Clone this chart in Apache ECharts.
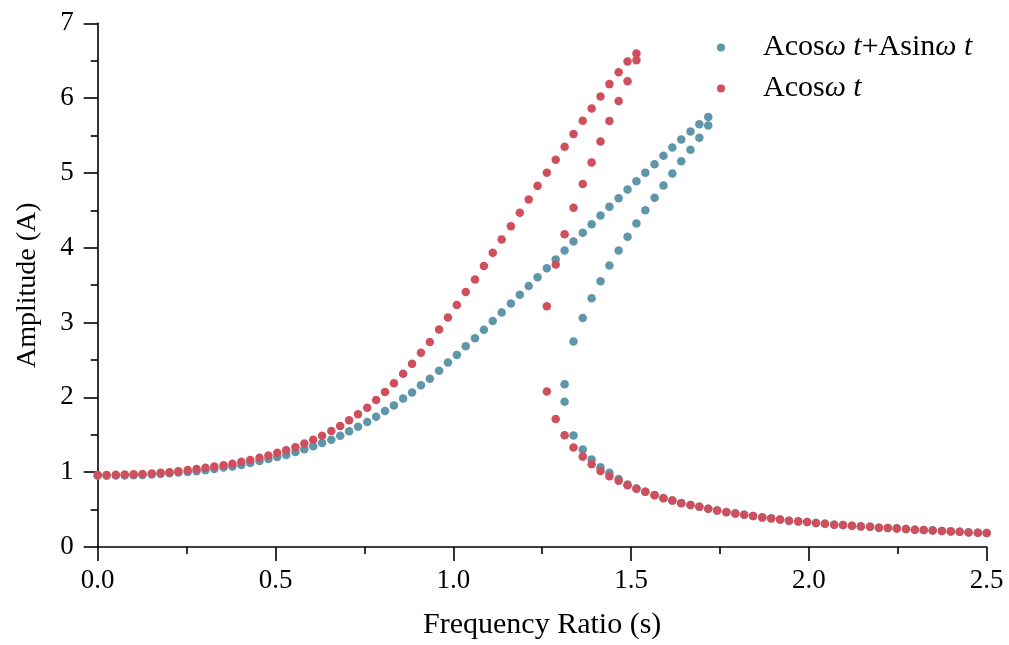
<!DOCTYPE html>
<html>
<head>
<meta charset="utf-8">
<script src="https://cdn.jsdelivr.net/npm/echarts@6/dist/echarts.min.js"></script>
<style>html,body{margin:0;padding:0;background:#fff}#c{width:1009px;height:645px}</style>
</head>
<body>
<div id="c"></div>
<script>
// Frequency grid (100 samples from 0 to 2.5)
var freq = [0.000,0.025,0.051,0.076,0.101,0.126,0.152,0.177,0.202,0.227,
0.253,0.278,0.303,0.328,0.354,0.379,0.404,0.429,0.455,0.480,
0.505,0.530,0.556,0.581,0.606,0.631,0.657,0.682,0.707,0.732,
0.758,0.783,0.808,0.833,0.859,0.884,0.909,0.934,0.960,0.985,
1.010,1.035,1.061,1.086,1.111,1.136,1.162,1.187,1.212,1.237,
1.263,1.288,1.313,1.338,1.364,1.389,1.414,1.439,1.465,1.490,
1.515,1.540,1.566,1.591,1.616,1.641,1.667,1.692,1.717,1.742,
1.768,1.793,1.818,1.843,1.869,1.894,1.919,1.944,1.970,1.995,
2.020,2.045,2.071,2.096,2.121,2.146,2.172,2.197,2.222,2.247,
2.273,2.298,2.323,2.348,2.374,2.399,2.424,2.449,2.475,2.500];

// Series names
var nameBoth = 'Acosωt+Asinωt';
var nameCos = 'Acosωt';

// Acos(wt)+Asin(wt): upper branch starts at freq index 0
var blueUpperStart = 0;
var blueUpper = [0.951,0.951,0.955,0.955,0.960,0.964,0.968,0.977,0.986,0.995,
1.004,1.013,1.026,1.044,1.062,1.075,1.097,1.124,1.151,1.177,
1.204,1.231,1.271,1.306,1.346,1.391,1.435,1.488,1.546,1.608,
1.671,1.742,1.817,1.893,1.985,2.066,2.162,2.250,2.355,2.466,
2.568,2.684,2.791,2.904,3.020,3.135,3.255,3.373,3.488,3.604,
3.727,3.844,3.962,4.084,4.200,4.315,4.431,4.547,4.661,4.777,
4.888,5.004,5.115,5.231,5.341,5.448,5.555,5.650,5.749];
// middle branch starts at freq index 52
var blueMiddleStart = 52;
var blueMiddle = [2.177,2.747,3.062,3.324,3.551,3.764,3.964,4.147,4.324,4.501,
4.667,4.831,4.991,5.155,5.311,5.471,5.633];
// lower branch starts at freq index 52
var blueLowerStart = 52;
var blueLower = [1.942,1.490,1.302,1.170,1.067,0.991,0.909,0.836,0.782,0.738,
0.694,0.654,0.623,0.587,0.561,0.538,0.512,0.489,0.467,0.449,
0.432,0.414,0.396,0.383,0.369,0.352,0.343,0.334,0.321,0.312,
0.298,0.294,0.285,0.276,0.272,0.258,0.254,0.249,0.241,0.232,
0.228,0.223,0.214,0.209,0.205,0.196,0.192,0.188];

// Acos(wt): upper branch starts at freq index 0
var redUpperStart = 0;
var redUpper = [0.964,0.964,0.966,0.968,0.972,0.977,0.983,0.991,1.000,1.013,
1.028,1.044,1.060,1.076,1.093,1.113,1.138,1.164,1.193,1.224,
1.259,1.294,1.334,1.384,1.435,1.488,1.551,1.617,1.693,1.773,
1.862,1.965,2.073,2.190,2.315,2.448,2.595,2.741,2.907,3.067,
3.235,3.408,3.577,3.755,3.933,4.111,4.288,4.467,4.644,4.827,
5.004,5.177,5.351,5.520,5.697,5.861,6.021,6.187,6.347,6.488,
6.595];
var redMiddleStart = 50;
var redMiddle = [3.217,3.777,4.181,4.533,4.853,5.141,5.421,5.693,5.960,6.227,6.507];
var redLowerStart = 50;
var redLower = [2.080,1.711,1.495,1.330,1.208,1.107,1.017,0.946,0.884,0.826,
0.777,0.737,0.693,0.653,0.622,0.586,0.560,0.537,0.511,0.488,
0.466,0.448,0.431,0.413,0.395,0.382,0.368,0.351,0.342,0.333,
0.320,0.311,0.297,0.293,0.284,0.275,0.271,0.257,0.253,0.248,
0.240,0.231,0.227,0.222,0.213,0.208,0.204,0.195,0.191,0.187];

// Axis ticks
var xTicks = [0.0,0.5,1.0,1.5,2.0,2.5];
var yTicks = [0,1,2,3,4,5,6,7];

function branch(start, vals){
  var out = [];
  for (var k = 0; k < vals.length; k++) out.push([freq[start + k], vals[k]]);
  return out;
}

var blueData = branch(blueUpperStart, blueUpper).concat(branch(blueMiddleStart, blueMiddle), branch(blueLowerStart, blueLower));
var redData = branch(redUpperStart, redUpper).concat(branch(redMiddleStart, redMiddle), branch(redLowerStart, redLower));

var FONT = '"Liberation Serif","Times New Roman",serif';
var BLUE = '#6096a9';
var RED = '#cf4f5d';

var chart = echarts.init(document.getElementById('c'), null, {renderer:'canvas'});
var axisCommon = {
  axisLine:{show:true, onZero:false, lineStyle:{color:'#000', width:1.6}},
  axisTick:{show:true, inside:false, length:14, lineStyle:{color:'#000', width:1.6}},
  minorTick:{show:true, splitNumber:2, length:7, lineStyle:{color:'#000', width:1.6}},
  splitLine:{show:false},
  minorSplitLine:{show:false}
};
chart.setOption({
  animation:false,
  backgroundColor:'#fff',
  grid:{left:97.7, right:22.3, top:23.3, bottom:96.7, containLabel:false},
  legend:{
    show:true,
    data:[nameBoth, nameCos],
    orient:'vertical',
    left:712, top:27,
    icon:'circle',
    itemWidth:8, itemHeight:8,
    itemGap:10,
    textStyle:{fontFamily:FONT, fontSize:30, color:'#000', lineHeight:31, padding:[0,0,0,33],
      rich:{i:{fontFamily:FONT, fontSize:30, fontStyle:'italic', color:'#000', lineHeight:31}}},
    formatter:function(n){
      if (n === nameBoth) return 'Acos{i|ω t}+Asin{i|ω t}';
      return 'Acos{i|ω t}';
    }
  },
  xAxis:Object.assign({
    type:'value', min:xTicks[0], max:xTicks[xTicks.length-1], interval:0.5,
    name:'Frequency Ratio (s)', nameLocation:'middle', nameGap:63,
    nameTextStyle:{fontFamily:FONT, fontSize:30, color:'#000'},
    axisLabel:{fontFamily:FONT, fontSize:27, color:'#000', margin:20,
      formatter:function(v){return v.toFixed(1);}}
  }, axisCommon),
  yAxis:Object.assign({
    type:'value', min:yTicks[0], max:yTicks[yTicks.length-1], interval:1,
    name:'Amplitude (A)', nameLocation:'middle', nameGap:56,
    nameTextStyle:{fontFamily:FONT, fontSize:28, color:'#000'},
    axisLabel:{fontFamily:FONT, fontSize:27, color:'#000', margin:24}
  }, axisCommon),
  series:[
    {name:nameBoth, type:'scatter', data:blueData, symbol:'circle', symbolSize:8.5,
      itemStyle:{color:BLUE, opacity:1}, z:2},
    {name:nameCos, type:'scatter', data:redData, symbol:'circle', symbolSize:8.5,
      itemStyle:{color:RED, opacity:1}, z:3}
  ]
});
</script>
</body>
</html>
